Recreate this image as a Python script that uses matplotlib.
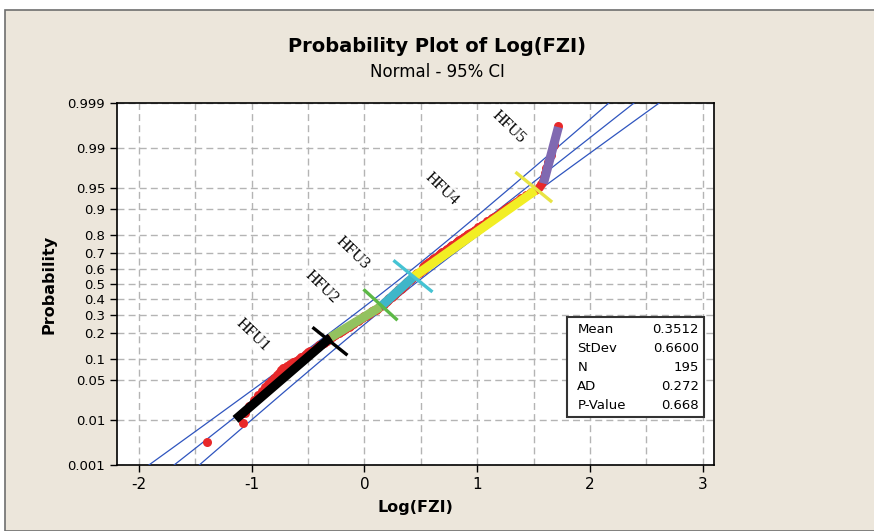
import numpy as np
import matplotlib
matplotlib.use("Agg")
import matplotlib.pyplot as plt
from matplotlib.patches import Rectangle
from statistics import NormalDist

# summary values shown in the box
mean = 0.3512
stdev = 0.6600
n_obs = 195
ad = 0.272
p_value = 0.668

# sorted Log(FZI) values, grouped by flow unit
hfu1_vals = [-1.40, -1.08, -1.06, -1.02, -0.98, -0.94, -0.91, -0.88, -0.86, -0.83,
             -0.80, -0.78, -0.76, -0.74, -0.72, -0.69, -0.66, -0.63, -0.61, -0.58,
             -0.56, -0.54, -0.52, -0.50, -0.48, -0.45, -0.43, -0.41, -0.40, -0.38,
             -0.36, -0.35, -0.33, -0.32, -0.31]
hfu2_vals = [-0.29, -0.28, -0.26, -0.25, -0.23, -0.22, -0.20, -0.19, -0.17, -0.16,
             -0.14, -0.13, -0.12, -0.10, -0.09, -0.08, -0.06, -0.05, -0.04, -0.02,
             -0.01, 0.00, 0.01, 0.02, 0.04, 0.05, 0.06, 0.07, 0.08, 0.10,
             0.11, 0.12, 0.13]
hfu3_vals = [0.14, 0.15, 0.16, 0.17, 0.17, 0.18, 0.19, 0.20, 0.21, 0.21,
             0.22, 0.23, 0.24, 0.24, 0.25, 0.26, 0.27, 0.27, 0.28, 0.29,
             0.30, 0.30, 0.31, 0.32, 0.33, 0.33, 0.34, 0.35, 0.36, 0.36,
             0.37, 0.38, 0.38, 0.39, 0.40, 0.41, 0.41, 0.42, 0.43]
hfu4_vals = [0.44, 0.45, 0.45, 0.46, 0.47, 0.48, 0.49, 0.50, 0.51, 0.52,
             0.53, 0.54, 0.52, 0.53, 0.54, 0.55, 0.55, 0.56, 0.57, 0.58,
             0.59, 0.60, 0.61, 0.62, 0.63, 0.64, 0.65, 0.66, 0.67, 0.68,
             0.69, 0.70, 0.71, 0.72, 0.73, 0.75, 0.76, 0.77, 0.78, 0.80,
             0.81, 0.82, 0.83, 0.84, 0.86, 0.87, 0.88, 0.90, 0.91, 0.92,
             0.94, 0.95, 0.97, 0.98, 1.00, 1.01, 1.03, 1.04, 1.06, 1.08,
             1.09, 1.11, 1.13, 1.15, 1.17, 1.19, 1.21, 1.23, 1.25, 1.27,
             1.29, 1.32, 1.34, 1.37, 1.39, 1.43, 1.47, 1.51]
hfu5_vals = [1.55, 1.57, 1.58, 1.59, 1.60, 1.61, 1.63, 1.65, 1.68, 1.72]

# hand drawn flow-unit segments: (x0, p0, x1, p1)
seg_names = ["HFU1", "HFU2", "HFU3", "HFU4", "HFU5"]
seg_x0 = [-1.144, -0.30, 0.142, 0.434, 1.587]
seg_p0 = [0.0104, 0.181, 0.348, 0.548, 0.957]
seg_x1 = [-0.30, 0.142, 0.434, 1.516, 1.72]
seg_p1 = [0.181, 0.348, 0.548, 0.945, 0.9963]
seg_colors = ["#000000", "#93C25F", "#3FB6C9", "#F2EE24", "#8069B1"]

# boundary cross marks
cross_x0 = [-0.461, -0.009, 0.257, 1.339]
cross_p0 = [0.230, 0.464, 0.657, 0.972]
cross_x1 = [-0.151, 0.293, 0.603, 1.664]
cross_p1 = [0.112, 0.268, 0.446, 0.919]
cross_colors = ["#000000", "#5CB846", "#45C3D3", "#E8E444"]

# label positions
lab_x = [-0.99, -0.38, -0.106, 0.683, 1.277]
lab_p = [0.19, 0.478, 0.70, 0.947, 0.9963]

prob_ticks = [0.001, 0.01, 0.05, 0.1, 0.2, 0.3, 0.4, 0.5, 0.6, 0.7, 0.8, 0.9, 0.95, 0.99, 0.999]
prob_labels = ["0.001", "0.01", "0.05", "0.1", "0.2", "0.3", "0.4", "0.5", "0.6", "0.7",
               "0.8", "0.9", "0.95", "0.99", "0.999"]

nd = NormalDist()


def fwd(p):
    p = np.clip(np.asarray(p, dtype=float), 1e-12, 1 - 1e-12)
    return np.vectorize(nd.inv_cdf, otypes=[float])(p)


def inv(z):
    return np.vectorize(nd.cdf, otypes=[float])(np.asarray(z, dtype=float))


data = np.array(hfu1_vals + hfu2_vals + hfu3_vals + hfu4_vals + hfu5_vals)
ranks = np.arange(1, len(data) + 1)
pos = (ranks - 0.3) / (n_obs + 0.4)

fig = plt.figure(figsize=(8.74, 5.31), dpi=100)
fig.patch.set_facecolor("white")
fig.patches.append(Rectangle((5 / 874, 0), 1, 1 - 10 / 531, transform=fig.transFigure,
                             facecolor="#ECE6DB", edgecolor="#6E6E6E", lw=1.2, zorder=-1))

ax = fig.add_axes([117 / 874, 66 / 531, 597 / 874, 362 / 531])
ax.set_yscale("function", functions=(fwd, inv))
ax.set_xlim(-2.195, 3.1)
ax.set_ylim(0.001, 0.999)

# fit line and 95% CI
pg = np.concatenate([[0.0003], np.linspace(0.0005, 0.9995, 400), [0.9997]])
zg = fwd(pg)
fit = mean + stdev * zg
half = 1.96 * stdev * np.sqrt(1 / n_obs + zg ** 2 / (2 * (n_obs - 1)))
for xs in (fit, fit - half, fit + half):
    ax.plot(xs, pg, color="#2F55BF", lw=0.9, zorder=3)

ax.plot(data, pos, "o", color="#E8282A", ms=6.5, mec="none", zorder=4)

for i in range(len(seg_names)):
    ax.plot([seg_x0[i], seg_x1[i]], [seg_p0[i], seg_p1[i]], color=seg_colors[i],
            lw=6.5, solid_capstyle="butt", zorder=5)
for i in range(len(cross_colors)):
    ax.plot([cross_x0[i], cross_x1[i]], [cross_p0[i], cross_p1[i]], color=cross_colors[i],
            lw=2.4, solid_capstyle="butt", zorder=6)
for i in range(len(seg_names)):
    ax.text(lab_x[i], lab_p[i], seg_names[i], rotation=-44, ha="center", va="center",
            family="Liberation Serif", fontsize=11.5, zorder=7,
            bbox=dict(facecolor="white", edgecolor="none", alpha=0.85, pad=2))

ax.set_xticks([-2, -1, 0, 1, 2, 3])
ax.set_xticklabels(["-2", "-1", "0", "1", "2", "3"], fontsize=11)
ax.set_xticks(np.arange(-2, 3.01, 0.5), minor=True)
ax.set_yticks(prob_ticks)
ax.set_yticklabels(prob_labels, fontsize=9.5)
ax.yaxis.set_minor_locator(matplotlib.ticker.NullLocator())
ax.tick_params(direction="out", length=5, width=1, colors="black")
ax.tick_params(axis="x", which="minor", length=0)
ax.grid(True, which="both", axis="x", color="#B4B4B4", ls=(0, (5, 3)), lw=1)
ax.grid(True, which="major", axis="y", color="#B4B4B4", ls=(0, (5, 3)), lw=1)
ax.set_axisbelow(True)
for s in ax.spines.values():
    s.set_linewidth(1.2)

ax.set_xlabel("Log(FZI)", fontsize=11.5, fontweight="bold", labelpad=6)
ax.set_ylabel("Probability", fontsize=11.5, fontweight="bold", labelpad=8)

fig.text(0.5, 1 - 47 / 531, "Probability Plot of Log(FZI)", ha="center", va="center",
         fontsize=14, fontweight="bold")
fig.text(0.5, 1 - 72 / 531, "Normal - 95% CI", ha="center", va="center", fontsize=12)

# stats box
ax.add_patch(Rectangle((0.754, 0.133), 0.229, 0.276, transform=ax.transAxes,
                       facecolor="white", edgecolor="#333333", lw=1.5, zorder=8))
box_labels = ["Mean", "StDev", "N", "AD", "P-Value"]
box_values = ["%.4f" % mean, "%.4f" % stdev, str(n_obs), "%.3f" % ad, "%.3f" % p_value]
for i in range(len(box_labels)):
    yy = 0.373 - i * 0.0525
    ax.text(0.771, yy, box_labels[i], transform=ax.transAxes, fontsize=9.5, va="center", zorder=9)
    ax.text(0.975, yy, box_values[i], transform=ax.transAxes, fontsize=9.5, va="center",
            ha="right", zorder=9)

fig.savefig("out.png", dpi=100)
